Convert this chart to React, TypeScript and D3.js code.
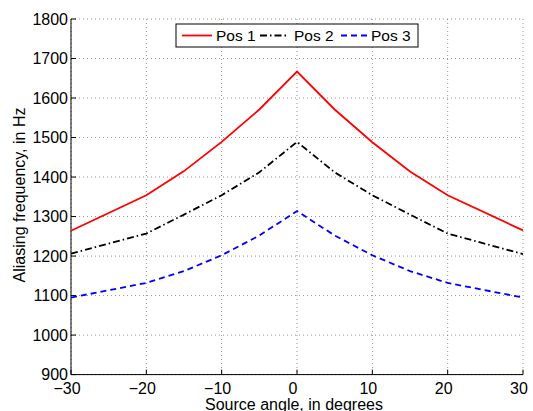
import React from 'react';
import * as d3 from 'd3';

// source angle in degrees
const angles = [-30, -20, -15, -10, -5, 0, 5, 10, 15, 20, 30];
// aliasing frequency (Hz) per microphone position
const pos1 = [1264, 1354, 1415, 1489, 1571, 1667, 1571, 1488, 1414, 1354, 1265];
const pos2 = [1206, 1257, 1305, 1354, 1412, 1489, 1412, 1354, 1305, 1257, 1205];
const pos3 = [1095, 1132, 1162, 1202, 1252, 1314, 1252, 1202, 1162, 1132, 1095];
const seriesNames = ['Pos 1', 'Pos 2', 'Pos 3'];
const xTicks = [-30, -20, -10, 0, 10, 20, 30];
const yTicks = [900, 1000, 1100, 1200, 1300, 1400, 1500, 1600, 1700, 1800];

const W = 533;
const H = 411;
const FONT = "'Liberation Sans', Arial, Helvetica, sans-serif";

const styles = [
  { color: '#ff0000', dash: 'none' },
  { color: '#000000', dash: '7,3,1.5,3' },
  { color: '#0000ff', dash: '6,4' },
];

const fmt = (v: number) => (v < 0 ? '\u2212' + Math.abs(v) : String(v));

export default function App() {
  const left = 71;
  const right = 523;
  const top = 19;
  const bottom = 374.6;

  const x = d3.scaleLinear().domain([-30, 30]).range([left, right]);
  const y = d3.scaleLinear().domain([900, 1800]).range([bottom, top]);

  const series = [pos1, pos2, pos3];
  const line = d3
    .line<number>()
    .x((_, i) => x(angles[i]))
    .y((d) => y(d));

  // legend layout
  const lg = { x: 176, y: 24, w: 242, h: 23 };
  const legendItems = [
    { lx1: 182, lx2: 212, tx: 216 },
    { lx1: 260, lx2: 287, tx: 294 },
    { lx1: 341, lx2: 368, tx: 371 },
  ];

  return (
    <svg
      width={W}
      height={H}
      style={{ position: 'absolute', left: 0, top: 0, background: '#fff' }}
      fontFamily={FONT}
    >
      <rect x={0} y={0} width={W} height={H} fill="#fff" />

      {/* grid */}
      <g stroke="#7a7a7a" strokeWidth={0.8} strokeDasharray="1,3">
        {xTicks.map((t) => (
          <line key={'gx' + t} x1={x(t)} x2={x(t)} y1={top} y2={bottom} />
        ))}
        {yTicks.map((t) => (
          <line key={'gy' + t} x1={left} x2={right} y1={y(t)} y2={y(t)} />
        ))}
      </g>

      {/* axes */}
      <g stroke="#000" strokeWidth={1} fill="none">
        <line x1={left} x2={left} y1={top} y2={bottom} />
        <line x1={left} x2={right} y1={bottom} y2={bottom} />
        {xTicks.map((t) => (
          <line key={'tx' + t} x1={x(t)} x2={x(t)} y1={bottom} y2={bottom - 5} />
        ))}
        {yTicks.map((t) => (
          <line key={'ty' + t} x1={left} x2={left + 5} y1={y(t)} y2={y(t)} />
        ))}
      </g>

      <g fontSize={16} fill="#000">
        {xTicks.map((t) => (
          <text key={'lx' + t} x={x(t) - 4} y={394} textAnchor="middle">
            {fmt(t)}
          </text>
        ))}
        {yTicks.map((t) => (
          <text key={'ly' + t} x={68} y={y(t)} dy="0.35em" textAnchor="end">
            {t}
          </text>
        ))}
        <text x={294} y={410} textAnchor="middle">
          Source angle, in degrees
        </text>
        <text transform="translate(25,195) rotate(-90)" textAnchor="middle">
          Aliasing frequency, in Hz
        </text>
      </g>

      {/* data lines */}
      {series.map((s, i) => (
        <path
          key={seriesNames[i]}
          d={line(s) || ''}
          fill="none"
          stroke={styles[i].color}
          strokeWidth={1.8}
          strokeDasharray={styles[i].dash}
        />
      ))}

      {/* legend */}
      <rect x={lg.x} y={lg.y} width={lg.w} height={lg.h} fill="#fff" stroke="#000" strokeWidth={1} />
      {legendItems.map((it, i) => (
        <g key={'lg' + i}>
          <line
            x1={it.lx1}
            x2={it.lx2}
            y1={lg.y + lg.h / 2}
            y2={lg.y + lg.h / 2}
            stroke={styles[i].color}
            strokeWidth={1.8}
            strokeDasharray={styles[i].dash}
          />
          <text x={it.tx} y={lg.y + lg.h / 2} dy="0.35em" fontSize={15.5}>
            {seriesNames[i]}
          </text>
        </g>
      ))}
    </svg>
  );
}
